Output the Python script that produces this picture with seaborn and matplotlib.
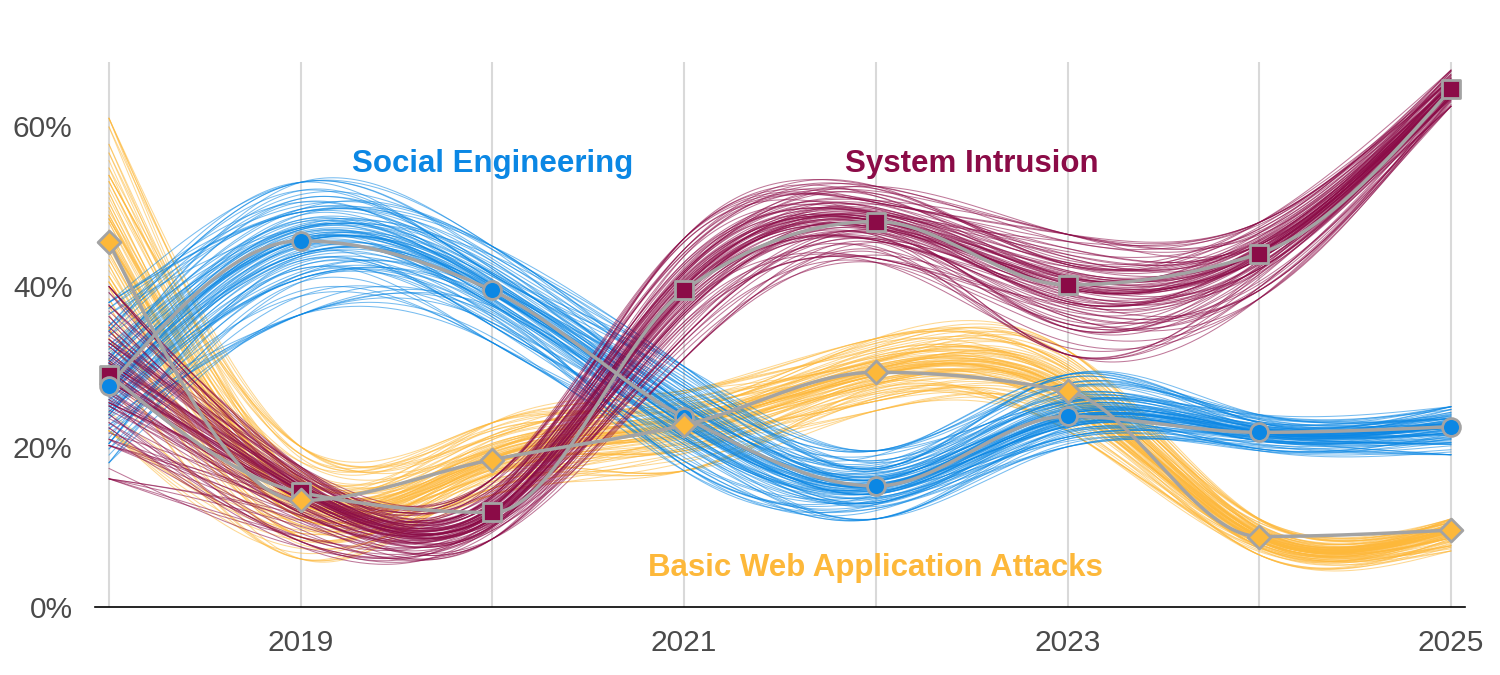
import numpy as np
import pandas as pd
import matplotlib
matplotlib.use("Agg")
import matplotlib.pyplot as plt
import seaborn as sns

# ------------------------- DATI -------------------------

years = [2018, 2019, 2020, 2021, 2022, 2023, 2024, 2025]

si_med = [29.0, 14.3, 11.8, 39.5, 48.1, 40.2, 44.1, 64.6]
si_lo = [16.0, 7.5, 8.5, 31.0, 43.0, 31.5, 38.5, 62.5]
si_hi = [40.0, 17.5, 16.0, 46.0, 52.5, 46.5, 48.0, 67.0]

se_med = [27.6, 45.7, 39.5, 23.7, 15.1, 23.8, 21.8, 22.5]
se_lo = [18.0, 36.5, 33.0, 17.0, 11.0, 20.0, 19.5, 19.0]
se_hi = [38.0, 53.0, 45.0, 30.0, 19.5, 29.0, 24.0, 25.0]

bwa_med = [45.5, 13.3, 18.4, 22.7, 29.3, 26.9, 8.8, 9.6]
bwa_lo = [22.0, 6.0, 14.0, 17.0, 24.5, 22.0, 6.5, 7.0]
bwa_hi = [61.0, 20.0, 23.0, 27.0, 33.5, 32.0, 11.0, 11.0]

# posizione relativa di ogni campione dentro la banda (-1 = minimo, 1 = massimo)
sample_ranks = [-1.0, -0.9, -0.82, -0.75, -0.68, -0.62, -0.56, -0.51, -0.46, -0.42,
                -0.38, -0.34, -0.3, -0.27, -0.24, -0.21, -0.18, -0.15, -0.12, -0.09,
                -0.07, -0.05, -0.03, -0.01, 0.01, 0.03, 0.05, 0.07, 0.1, 0.13,
                0.16, 0.19, 0.22, 0.25, 0.28, 0.32, 0.36, 0.4, 0.44, 0.49,
                0.54, 0.6, 0.66, 0.72, 0.79, 0.86, 0.93, 1.0]
# piccoli scambi di posizione tra un anno e l'altro (i campioni si incrociano)
rank_jitter = [0, 4, -3, 6, -5, 2, -7, 3, -1, 5, -4, 1, 7, -2, -6, 3]
pass_shifts = [0, 7]

series_names = ["Basic Web Application Attacks", "Social Engineering", "System Intrusion"]
series_colors = ["#fdb83a", "#0b87e4", "#8b0b47"]
series_markers = ["D", "o", "s"]
series_sizes = [135, 165, 160]
series_med = [bwa_med, se_med, si_med]
series_lo = [bwa_lo, se_lo, si_lo]
series_hi = [bwa_hi, se_hi, si_hi]
series_shift = [0, 5, 11]
marker_zorder = [8, 7, 6]

y_ticks = [0, 20, 40, 60]
x_tick_labels = [2019, 2021, 2023, 2025]

# ------------------------- CURVE -------------------------

def natural_spline(x, y, xs):
    x = np.asarray(x, float); y = np.asarray(y, float)
    n = len(x); h = np.diff(x)
    A = np.zeros((n, n)); b = np.zeros(n)
    A[0, 0] = A[-1, -1] = 1
    for i in range(1, n - 1):
        A[i, i - 1] = h[i - 1]; A[i, i] = 2 * (h[i - 1] + h[i]); A[i, i + 1] = h[i]
        b[i] = 3 * ((y[i + 1] - y[i]) / h[i] - (y[i] - y[i - 1]) / h[i - 1])
    c = np.linalg.solve(A, b)
    idx = np.clip(np.searchsorted(x, xs, side="right") - 1, 0, n - 2)
    t = xs - x[idx]
    bb = (y[idx + 1] - y[idx]) / h[idx] - h[idx] * (2 * c[idx] + c[idx + 1]) / 3
    d = (c[idx + 1] - c[idx]) / (3 * h[idx])
    return y[idx] + bb * t + c[idx] * t ** 2 + d * t ** 3

def monotone_curve(x, y, xs):
    x = np.asarray(x, float); y = np.asarray(y, float)
    n = len(x); h = np.diff(x); s = np.diff(y) / h
    m = np.zeros(n)
    for i in range(1, n - 1):
        if s[i - 1] * s[i] <= 0:
            m[i] = 0
        else:
            p = (s[i - 1] * h[i] + s[i] * h[i - 1]) / (h[i - 1] + h[i])
            m[i] = np.sign(s[i]) * min(abs(s[i - 1]), abs(s[i]), 0.5 * abs(p)) * 2
    m[0] = (3 * s[0] - m[1]) / 2
    m[-1] = (3 * s[-1] - m[-2]) / 2
    idx = np.clip(np.searchsorted(x, xs, side="right") - 1, 0, n - 2)
    t = (xs - x[idx]) / h[idx]
    h00 = 2 * t ** 3 - 3 * t ** 2 + 1; h10 = t ** 3 - 2 * t ** 2 + t
    h01 = -2 * t ** 3 + 3 * t ** 2; h11 = t ** 3 - t ** 2
    return h00 * y[idx] + h10 * h[idx] * m[idx] + h01 * y[idx + 1] + h11 * h[idx] * m[idx + 1]

xs = np.linspace(years[0], years[-1], 300)

def sample_values(med, lo, hi, k, shift):
    n = len(sample_ranks)
    out = []
    for j in range(len(years)):
        i = k + rank_jitter[(k + 3 * j + shift) % len(rank_jitter)]
        r = sample_ranks[min(max(i, 0), n - 1)]
        out.append(med[j] + r * (hi[j] - med[j]) if r >= 0 else med[j] + r * (med[j] - lo[j]))
    return out

# ------------------------- GRAFICO -------------------------

sns.set_theme(style="white")
plt.rcParams["font.family"] = ["Liberation Sans", "DejaVu Sans"]

fig = plt.figure(figsize=(15, 6.75), dpi=100)
ax = fig.add_axes([0.0633, 0.1007, 0.9134, 0.8073])

for yr in years:
    ax.axvline(yr, color="#d9d9d9", lw=1.5, zorder=0)

for name, col, med, lo, hi, sh in zip(series_names, series_colors, series_med,
                                      series_lo, series_hi, series_shift):
    rows = []
    for p, ps in enumerate(pass_shifts):
        for k in range(len(sample_ranks)):
            vals = sample_values(med, lo, hi, k, sh + ps)
            rows.append(pd.DataFrame({"x": xs, "y": natural_spline(years, vals, xs),
                                      "sample": p * 1000 + k}))
    df = pd.concat(rows)
    sns.lineplot(data=df, x="x", y="y", units="sample", estimator=None, sort=False,
                 color=col, lw=0.75, alpha=0.55, ax=ax, zorder=2)

for med in series_med:
    ax.plot(xs, monotone_curve(years, med, xs), color="#a3a3a3", lw=2.5, zorder=5,
            solid_capstyle="round")

for col, mk, sz, med, zo in zip(series_colors, series_markers, series_sizes,
                                series_med, marker_zorder):
    sns.scatterplot(x=years, y=med, marker=mk, s=sz, color=col, edgecolor="#a3a3a3",
                    linewidth=2, ax=ax, zorder=zo, legend=False)

ax.text(2020, 55.3, "Social Engineering", color=series_colors[1], fontsize=22.5,
        fontweight="bold", ha="center", va="center", zorder=10)
ax.text(2022.5, 55.3, "System Intrusion", color=series_colors[2], fontsize=22.5,
        fontweight="bold", ha="center", va="center", zorder=10)
ax.text(2022, 4.9, "Basic Web Application Attacks", color=series_colors[0], fontsize=22.5,
        fontweight="bold", ha="center", va="center", zorder=10)

ax.set_xlim(2017.927, 2025.073)
ax.set_ylim(0, 68)
ax.set_yticks(y_ticks)
ax.set_yticklabels([f"{v}%" for v in y_ticks])
ax.set_xticks(x_tick_labels)
ax.set_xticklabels([str(v) for v in x_tick_labels])
ax.tick_params(axis="both", length=0, labelsize=21.5, colors="#4a4a4a")
ax.tick_params(axis="y", pad=16)
ax.tick_params(axis="x", pad=16)
ax.set_xlabel("")
ax.set_ylabel("")
ax.grid(False)
sns.despine(ax=ax, left=True, top=True, right=True)
ax.spines["bottom"].set_color("black")
ax.spines["bottom"].set_linewidth(1.2)
ax.spines["bottom"].set_zorder(9)

fig.savefig("out.png", dpi=100)
